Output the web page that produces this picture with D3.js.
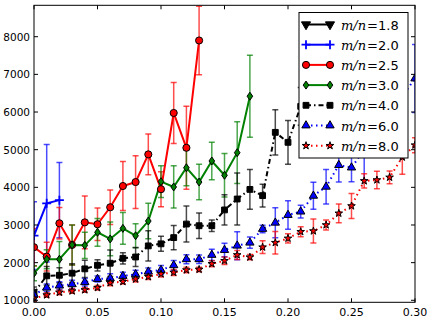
<!DOCTYPE html>
<html>
<head>
<meta charset="utf-8">
<script src="https://cdn.jsdelivr.net/npm/d3@7"></script>
<style>
  body { margin: 0; background: #fff; }
  svg { display: block; }
</style>
</head>
<body>
<svg id="chart"></svg>
<script>
// series data: x (fraction), y value, error half-width
const labels = ["1.8", "2.0", "2.5", "3.0", "4.0", "6.0", "8.0"]

const x18 = []
const y18 = []
const e18 = []

const x20 = [0, 0.01, 0.02]
const y20 = [2720, 3575, 3660]
const e20 = [900, 1560, 1000]

const x25 = [0, 0.01, 0.02, 0.03, 0.04, 0.05, 0.06, 0.07, 0.08, 0.09, 0.10, 0.11, 0.12, 0.13]
const y25 = [2410, 2160, 3045, 2470, 3070, 3020, 3470, 4035, 4140, 4875, 3950, 5975, 5050, 7900]
const e25 = [500, 380, 420, 530, 700, 430, 460, 650, 700, 540, 465, 810, 1100, 910]

const x30 = [0, 0.01, 0.02, 0.03, 0.04, 0.05, 0.06, 0.07, 0.08, 0.09, 0.10, 0.11, 0.12, 0.13, 0.14, 0.15, 0.16, 0.17]
const y30 = [1720, 2090, 2090, 2470, 2460, 2805, 2630, 2910, 2715, 3105, 4150, 4010, 4520, 4140, 4700, 4320, 4920, 6420]
const e30 = [200, 250, 470, 530, 350, 370, 450, 420, 320, 470, 420, 560, 480, 470, 500, 580, 820, 1090]

const x40 = [0, 0.01, 0.02, 0.03, 0.04, 0.05, 0.06, 0.07, 0.08, 0.09, 0.10, 0.11, 0.12, 0.13, 0.14, 0.15, 0.16, 0.17, 0.18, 0.19, 0.20, 0.21]
const y40 = [1200, 1650, 1665, 1720, 1835, 1930, 1985, 2115, 2150, 2445, 2500, 2665, 3025, 2980, 2980, 3400, 3690, 3945, 3780, 5460, 5195, 6150]
const e40 = [150, 250, 200, 250, 230, 150, 350, 150, 250, 400, 200, 320, 480, 340, 150, 400, 690, 530, 300, 600, 580, 500]

const x60 = [0, 0.01, 0.02, 0.03, 0.04, 0.05, 0.06, 0.07, 0.08, 0.09, 0.10, 0.11, 0.12, 0.13, 0.14, 0.15, 0.16, 0.17, 0.18, 0.19, 0.20, 0.21, 0.22, 0.23, 0.24, 0.25, 0.26, 0.30]
const y60 = [1150, 1335, 1390, 1425, 1480, 1565, 1585, 1645, 1690, 1760, 1805, 1930, 2090, 2090, 2205, 2335, 2450, 2530, 2895, 3060, 3265, 3355, 3775, 4015, 4590, 4525, 5000, 6890]
const e60 = [120, 100, 100, 110, 100, 80, 120, 100, 110, 100, 120, 130, 120, 110, 150, 180, 370, 150, 100, 400, 380, 170, 360, 460, 450, 380, 800, 900]

const x80 = [0, 0.01, 0.02, 0.03, 0.04, 0.05, 0.06, 0.07, 0.08, 0.09, 0.10, 0.11, 0.12, 0.13, 0.14, 0.15, 0.16, 0.17, 0.18, 0.19, 0.20, 0.21, 0.22, 0.23, 0.24, 0.25, 0.26, 0.27, 0.28, 0.29, 0.30]
const y80 = [1050, 1140, 1210, 1245, 1275, 1335, 1465, 1495, 1565, 1625, 1700, 1740, 1805, 1820, 1970, 2050, 2205, 2145, 2410, 2530, 2645, 2820, 2840, 3000, 3310, 3505, 4170, 4195, 4265, 4800, 5120]
const e80 = [80, 60, 60, 60, 60, 60, 80, 60, 80, 70, 80, 80, 70, 60, 80, 100, 120, 70, 170, 300, 120, 130, 320, 130, 250, 330, 190, 230, 170, 450, 200]

const xTicks = [0, 0.05, 0.10, 0.15, 0.20, 0.25, 0.30]
const yTicks = [1000, 2000, 3000, 4000, 5000, 6000, 7000, 8000]

// custom marker paths
const plusPath = "M-4.5,0H4.5M0,-4.5V4.5"
const thinDiamond = "M0,-4L2.8,0L0,4L-2.8,0Z"

const series = [
  { label: labels[0], xs: x18, ys: y18, es: e18, color: "#000", dash: null, marker: d3.symbol(d3.symbolTriangle, 36)(), rot: 180, fill: "#000" },
  { label: labels[1], xs: x20, ys: y20, es: e20, color: "#0000ff", dash: null, marker: plusPath, fill: "none", plus: true },
  { label: labels[2], xs: x25, ys: y25, es: e25, color: "#ff0000", dash: null, marker: d3.symbol(d3.symbolCircle, 40)(), fill: "#ff0000" },
  { label: labels[3], xs: x30, ys: y30, es: e30, color: "#008000", dash: null, marker: thinDiamond, fill: "#008000" },
  { label: labels[4], xs: x40, ys: y40, es: e40, color: "#000", dash: "5,3,1.5,3", marker: d3.symbol(d3.symbolSquare, 34)(), fill: "#000" },
  { label: labels[5], xs: x60, ys: y60, es: e60, color: "#0000ff", dash: "1.5,3.5", marker: d3.symbol(d3.symbolTriangle, 30)(), fill: "#0000ff" },
  { label: labels[6], xs: x80, ys: y80, es: e80, color: "#ff0000", dash: "1.5,3.5", marker: d3.symbol(d3.symbolStar, 18)(), fill: "#ff0000" }
]

const W = 432, H = 323
const mLeft = 34, mRight = 415, mTop = 5.3, mBottom = 302.3

const svg = d3.select("#chart").attr("width", W).attr("height", H)

const x = d3.scaleLinear().domain([0, 0.30]).range([mLeft, mRight])
const y = d3.scaleLinear().domain([947, 8834]).range([mBottom, mTop])

svg.append("defs").append("clipPath").attr("id", "plot")
  .append("rect").attr("x", mLeft).attr("y", mTop)
  .attr("width", mRight - mLeft).attr("height", mBottom - mTop)

const plot = svg.append("g").attr("clip-path", "url(#plot)")

// error bars first, then lines, then markers
series.forEach(s => {
  const pts = s.xs.map((v, i) => ({ x: v, y: s.ys[i], e: s.es[i] }))
  const eb = plot.append("g")
    .attr("stroke", s.color).attr("stroke-opacity", 0.7).attr("stroke-width", 1.5)
  pts.forEach(p => {
    const x0 = x(p.x), y1 = y(p.y + p.e), y2 = y(p.y - p.e)
    eb.append("line").attr("x1", x0).attr("x2", x0).attr("y1", y1).attr("y2", y2)
    eb.append("line").attr("x1", x0 - 3).attr("x2", x0 + 3).attr("y1", y1).attr("y2", y1)
    eb.append("line").attr("x1", x0 - 3).attr("x2", x0 + 3).attr("y1", y2).attr("y2", y2)
  })
})

series.forEach(s => {
  const pts = s.xs.map((v, i) => ({ x: v, y: s.ys[i] }))
  if (pts.length === 0) return
  plot.append("path")
    .datum(pts)
    .attr("fill", "none")
    .attr("stroke", s.color)
    .attr("stroke-width", 2)
    .attr("stroke-dasharray", s.dash)
    .attr("d", d3.line().x(d => x(d.x)).y(d => y(d.y)))
})

function drawMarker(g, s, cx, cy) {
  const m = g.append("path")
    .attr("d", s.marker)
    .attr("transform", `translate(${cx},${cy})` + (s.rot ? ` rotate(${s.rot})` : ""))
  if (s.plus) {
    m.attr("stroke", s.color).attr("stroke-width", 1.8).attr("fill", "none")
  } else {
    m.attr("fill", s.fill).attr("stroke", "#000").attr("stroke-width", 1)
  }
}

series.forEach(s => {
  const g = plot.append("g")
  s.xs.forEach((v, i) => drawMarker(g, s, x(v), y(s.ys[i])))
})

// axes frame with inward ticks on all sides
const tickFont = "DejaVu Sans, sans-serif"
const axes = svg.append("g")
xTicks.forEach(t => {
  axes.append("line").attr("x1", x(t)).attr("x2", x(t)).attr("y1", mBottom).attr("y2", mBottom - 4).attr("stroke", "#000")
  axes.append("line").attr("x1", x(t)).attr("x2", x(t)).attr("y1", mTop).attr("y2", mTop + 4).attr("stroke", "#000")
  axes.append("text").attr("x", x(t)).attr("y", mBottom + 14)
    .attr("text-anchor", "middle").attr("font-family", tickFont).attr("font-size", 11)
    .text(d3.format(".2f")(t))
})
yTicks.forEach(t => {
  axes.append("line").attr("x1", mLeft).attr("x2", mLeft + 4).attr("y1", y(t)).attr("y2", y(t)).attr("stroke", "#000")
  axes.append("line").attr("x1", mRight).attr("x2", mRight - 4).attr("y1", y(t)).attr("y2", y(t)).attr("stroke", "#000")
  axes.append("text").attr("x", mLeft - 4).attr("y", y(t) + 4)
    .attr("text-anchor", "end").attr("font-family", tickFont).attr("font-size", 10.5)
    .text(t)
})
axes.append("rect").attr("x", mLeft).attr("y", mTop)
  .attr("width", mRight - mLeft).attr("height", mBottom - mTop)
  .attr("fill", "none").attr("stroke", "#000").attr("stroke-width", 1)

// legend
const lg = svg.append("g")
lg.append("rect").attr("x", 299).attr("y", 12.5).attr("width", 109).attr("height", 145.5)
  .attr("fill", "#fff").attr("stroke", "#000").attr("stroke-width", 1)
series.forEach((s, i) => {
  const ly = 24.5 + i * 20.2
  lg.append("line").attr("x1", 306).attr("x2", 330).attr("y1", ly).attr("y2", ly)
    .attr("stroke", s.color).attr("stroke-width", 2).attr("stroke-dasharray", s.dash)
  drawMarker(lg, s, 306, ly)
  drawMarker(lg, s, 330, ly)
  const t = lg.append("text").attr("x", 341).attr("y", ly + 5).attr("font-size", 13)
  t.append("tspan").attr("font-family", "DejaVu Serif, serif").attr("font-style", "italic").text("m/n")
  t.append("tspan").attr("font-family", "DejaVu Serif, serif").attr("dx", 1).text("=")
  t.append("tspan").attr("font-family", "DejaVu Sans, sans-serif").text(s.label)
})
</script>
</body>
</html>
